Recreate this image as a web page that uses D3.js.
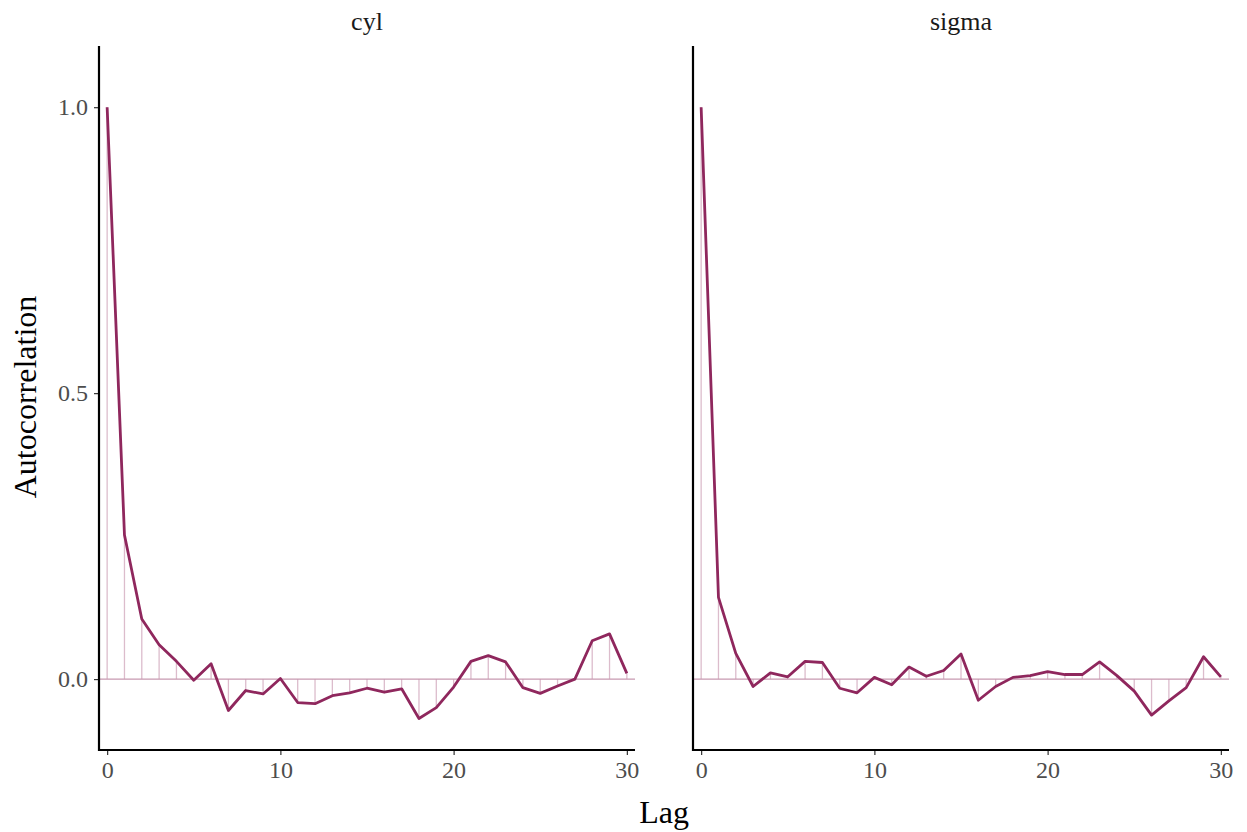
<!DOCTYPE html>
<html>
<head>
<meta charset="utf-8">
<script src="https://cdn.jsdelivr.net/npm/d3@7"></script>
<style>
html,body{margin:0;padding:0;background:#fff;}
svg{display:block;}
text{font-family:"Liberation Serif","DejaVu Serif",serif;}
</style>
</head>
<body>
<svg id="chart" width="1247" height="832"></svg>
<script>
const lags = d3.range(0, 31);
const parameters = ["cyl", "sigma"];
const acfCyl = [1.000, 0.252, 0.105, 0.060, 0.031, -0.002, 0.027, -0.055, -0.020, -0.026, 0.001,
  -0.041, -0.043, -0.029, -0.024, -0.016, -0.023, -0.017, -0.069, -0.050, -0.014,
  0.031, 0.041, 0.030, -0.015, -0.025, -0.012, 0.000, 0.067, 0.079, 0.010];
const acfSigma = [1.000, 0.143, 0.045, -0.013, 0.011, 0.004, 0.031, 0.029, -0.016, -0.024, 0.003,
  -0.010, 0.021, 0.005, 0.015, 0.044, -0.037, -0.013, 0.003, 0.006, 0.013,
  0.008, 0.008, 0.030, 0.006, -0.021, -0.063, -0.038, -0.015, 0.039, 0.004];
const xTicks = [0, 10, 20, 30];
const yTicks = [0.0, 0.5, 1.0];
const series = [acfCyl, acfSigma];

const svg = d3.select("#chart");
const panels = [{x0: 99, x1: 635}, {x0: 693, x1: 1229}];
const yTop = 46, yBot = 750;

const y = d3.scaleLinear().domain([-0.124, 1.107]).range([yBot, yTop]);

const colDark = "#8f275d", colLight = "#dcbccc", colHline = "#c799b0";

panels.forEach((p, i) => {
  const x = d3.scaleLinear().domain([-0.47, 30.47]).range([p.x0, p.x1]);
  const g = svg.append("g");
  const data = lags.map((l, k) => ({lag: l, v: series[i][k]}));

  g.selectAll("line.seg").data(data).enter().append("line")
    .attr("x1", d => x(d.lag)).attr("x2", d => x(d.lag))
    .attr("y1", y(0)).attr("y2", d => y(d.v))
    .attr("stroke", colLight).attr("stroke-width", 1.3);

  g.append("line").attr("x1", p.x0).attr("x2", p.x1)
    .attr("y1", y(0)).attr("y2", y(0))
    .attr("stroke", colHline).attr("stroke-width", 1.4);

  g.append("path").datum(data)
    .attr("d", d3.line().x(d => x(d.lag)).y(d => y(d.v)))
    .attr("fill", "none").attr("stroke", colDark).attr("stroke-width", 2.8)
    .attr("stroke-linejoin", "round");

  const xa = g.append("g").attr("transform", `translate(0,${yBot})`)
    .call(d3.axisBottom(x).tickValues(xTicks).tickSize(5).tickPadding(6).tickFormat(d3.format("d")));
  xa.select(".domain").remove();
  xa.selectAll(".tick line").attr("stroke", "#333").attr("stroke-width", 1.2);
  xa.selectAll(".tick text").attr("fill", "#4d4d4d").style("font-size", "24px");
  g.append("line").attr("x1", p.x0 - 1).attr("x2", p.x1).attr("y1", yBot).attr("y2", yBot)
    .attr("stroke", "#000").attr("stroke-width", 2.2);

  if (i === 0) {
    const ya = g.append("g").attr("transform", `translate(${p.x0},0)`)
      .call(d3.axisLeft(y).tickValues(yTicks).tickSize(5).tickPadding(6).tickFormat(d3.format(".1f")));
    ya.select(".domain").remove();
    ya.selectAll(".tick line").attr("stroke", "#333").attr("stroke-width", 1.2);
    ya.selectAll(".tick text").attr("fill", "#4d4d4d").style("font-size", "24px");
  }
  g.append("line").attr("x1", p.x0).attr("x2", p.x0).attr("y1", yTop).attr("y2", yBot + 1)
    .attr("stroke", "#000").attr("stroke-width", 2.2);

  svg.append("text").attr("x", (p.x0 + p.x1) / 2).attr("y", 30)
    .attr("text-anchor", "middle").style("font-size", "26px").attr("fill", "#1a1a1a")
    .text(parameters[i]);
});

svg.append("text").attr("x", (99 + 1229) / 2 ).attr("y", 823)
  .attr("text-anchor", "middle").style("font-size", "32px").attr("fill", "#000").text("Lag");
svg.append("text").attr("transform", "translate(36,397) rotate(-90)")
  .attr("text-anchor", "middle").style("font-size", "32px").attr("fill", "#000").text("Autocorrelation");
</script>
</body>
</html>
